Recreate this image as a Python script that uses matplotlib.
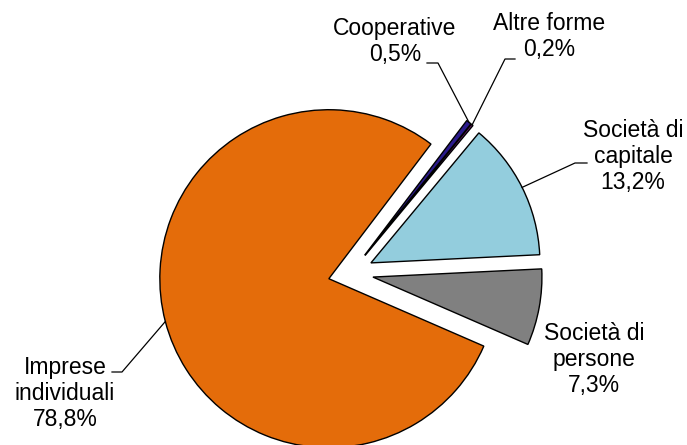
import numpy as np
import matplotlib
matplotlib.use("Agg")
import matplotlib.pyplot as plt

plt.rcParams['font.family'] = ['Liberation Sans', 'DejaVu Sans']

# dati (ordine antiorario a partire dalla fetta grigia)
categorie = ["Società di\npersone", "Società di\ncapitale", "Altre forme", "Cooperative", "Imprese\nindividuali"]
quote = [7.3, 13.2, 0.2, 0.5, 78.8]
etichette_pct = ["7,3%", "13,2%", "0,2%", "0,5%", "78,8%"]
colori = ["#808080", "#93CDDD", "#7A1F7A", "#2B1A8C", "#E46C0A"]

W, H = 687, 445
fig = plt.figure(figsize=(W / 100, H / 100), dpi=100)
ax = fig.add_axes([0, 0, 1, 1])

centro = (350.7, H - 273)
raggio = 169
stacco = 22.6
inizio = -23.5

wedges, _ = ax.pie(quote, colors=colori, startangle=inizio, counterclock=True,
                   explode=[stacco] * len(quote), radius=raggio, center=centro,
                   wedgeprops=dict(edgecolor='black', linewidth=1.0),
                   frame=True)
ax.set_xlim(0, W)
ax.set_ylim(0, H)
ax.set_aspect('equal')
ax.axis('off')


def ancora(w):
    # punto sul bordo della fetta, a metà dell'arco
    t = np.deg2rad((w.theta1 + w.theta2) / 2)
    cx, cy = w.center
    return cx + w.r * np.cos(t), cy + w.r * np.sin(t)


# posizione delle etichette (pixel dall'alto) e punto di gomito della linea guida
pos_testo = [(594, 359.5), (633, 156.5), (549, 36.5), (395, 41.5), (65, 393.5)]
gomito = [None, [(587, 163), (575, 163)], [(515, 59), (505, 59)],
          [(427, 63), (438, 63)], [(112, 372), (122, 372)]]

for w, cat, pct, (tx, ty), gm in zip(wedges, categorie, etichette_pct, pos_testo, gomito):
    ax.text(tx, H - ty, cat + "\n" + pct, ha='center', va='center',
            fontsize=16.5, linespacing=1.15, color='black')
    if gm is not None:
        ax_, ay_ = ancora(w)
        xs = [gm[0][0], gm[1][0], ax_]
        ys = [H - gm[0][1], H - gm[1][1], ay_]
        ax.plot(xs, ys, color='black', linewidth=0.9)

fig.savefig("out.png", dpi=100)
